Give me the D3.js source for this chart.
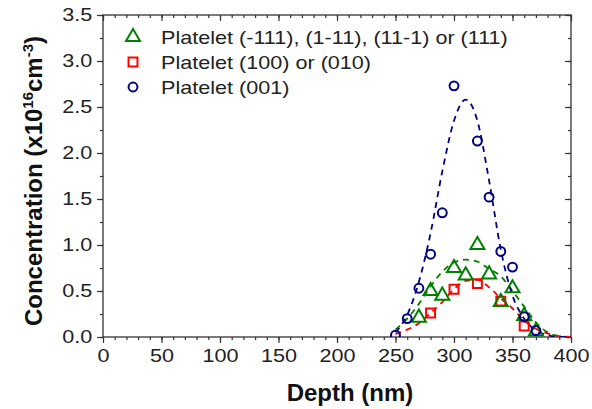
<!DOCTYPE html>
<html><head><meta charset="utf-8">
<script src="https://cdn.jsdelivr.net/npm/d3@7/dist/d3.min.js"></script>
<style>body{margin:0;background:#fff}svg{display:block}text{font-family:"Liberation Sans",Arial,sans-serif}</style>
</head><body><svg id="c" width="592" height="409"></svg>
<script>
// Data
const triDepth = [270, 280, 290, 300, 310, 320, 330, 340, 350, 360, 370];
const triConc  = [0.21, 0.50, 0.45, 0.75, 0.67, 1.00, 0.68, 0.38, 0.53, 0.23, 0.06];
const sqDepth  = [280, 300, 320, 340, 360];
const sqConc   = [0.26, 0.52, 0.58, 0.39, 0.12];
const circDepth = [250, 260, 270, 280, 290, 300, 320, 330, 340, 350, 360, 370];
const circConc  = [0.02, 0.20, 0.53, 0.90, 1.35, 2.73, 2.13, 1.52, 0.93, 0.76, 0.22, 0.07];
const fitDepth = [250, 260, 270, 280, 290, 300, 310, 320, 330, 340, 350, 360, 370, 380, 390, 400];
const fitGreen = [0.08, 0.20, 0.36, 0.55, 0.71, 0.81, 0.84, 0.82, 0.74, 0.66, 0.50, 0.33, 0.16, 0.05, 0.01, 0.0];
const fitRed   = [0.03, 0.08, 0.15, 0.26, 0.38, 0.52, 0.61, 0.62, 0.54, 0.42, 0.31, 0.18, 0.09, 0.04, 0.01, 0.0];
const fitBlue  = [0.05, 0.24, 0.60, 1.13, 1.80, 2.35, 2.58, 2.35, 1.70, 0.95, 0.45, 0.20, 0.07, 0.02, 0.0, 0.0];
const xTicks = [0, 50, 100, 150, 200, 250, 300, 350, 400];
const yTicks = [0.0, 0.5, 1.0, 1.5, 2.0, 2.5, 3.0, 3.5];
const legendLabels = ["Platelet (-111), (1-11), (11-1) or (111)", "Platelet (100) or (010)", "Platelet (001)"];
const colors = ["#008000", "#ff0000", "#000080"];

const SX = 1.2; // horizontal stretch of the reference's small text
const svg = d3.select("#c");
const L = 103, R = 571, T = 15, B = 337;
const x = d3.scaleLinear().domain([0, 400]).range([L, R]);
const y = d3.scaleLinear().domain([0, 3.5]).range([B, T]);
const axisColor = "#333";

const xMinor = d3.range(0, 401, 10);
const yMinor = d3.range(0, 3.51, 0.25);

function styleAxis(g){
  g.select(".domain").remove();
  g.selectAll("line").attr("stroke", axisColor).attr("stroke-width", 1.2);
  g.selectAll("text").attr("fill", "#222").style("font-size", "18px")
    .attr("transform", `scale(${SX},1)`);
}
// bottom
svg.append("g").attr("transform", `translate(0,${B})`)
  .call(d3.axisBottom(x).tickValues(xMinor).tickSize(3).tickFormat(""))
  .call(styleAxis);
svg.append("g").attr("transform", `translate(0,${B})`)
  .call(d3.axisBottom(x).tickValues(xTicks).tickSize(6).tickPadding(6).tickFormat(d3.format("d")))
  .call(styleAxis);
// top (inward)
svg.append("g").attr("transform", `translate(0,${T})`)
  .call(d3.axisBottom(x).tickValues(xMinor).tickSize(3).tickFormat(""))
  .call(styleAxis);
svg.append("g").attr("transform", `translate(0,${T})`)
  .call(d3.axisBottom(x).tickValues(xTicks).tickSize(6).tickFormat(""))
  .call(styleAxis);
// left
svg.append("g").attr("transform", `translate(${L},0)`)
  .call(d3.axisLeft(y).tickValues(yMinor).tickSize(3).tickFormat(""))
  .call(styleAxis);
svg.append("g").attr("transform", `translate(${L},0)`)
  .call(d3.axisLeft(y).tickValues(yTicks).tickSize(6).tickPadding(3).tickFormat(d3.format(".1f")))
  .call(styleAxis);
// right (inward)
svg.append("g").attr("transform", `translate(${R},0)`)
  .call(d3.axisLeft(y).tickValues(yMinor).tickSize(3).tickFormat(""))
  .call(styleAxis);
svg.append("g").attr("transform", `translate(${R},0)`)
  .call(d3.axisLeft(y).tickValues(yTicks).tickSize(6).tickFormat(""))
  .call(styleAxis);
// frame
svg.append("rect").attr("x", L).attr("y", T).attr("width", R - L).attr("height", B - T)
  .attr("fill", "none").attr("stroke", axisColor).attr("stroke-width", 1.3);

svg.append("clipPath").attr("id", "clip").append("rect")
  .attr("x", L).attr("y", T).attr("width", R - L).attr("height", B - T);
const plot = svg.append("g").attr("clip-path", "url(#clip)");

// fit curves
const line = d3.line().x(d => x(d[0])).y(d => y(d[1])).curve(d3.curveMonotoneX);
[fitGreen, fitRed, fitBlue].forEach((f, i) => {
  plot.append("path").datum(fitDepth.map((d, j) => [d, f[j]]))
    .attr("d", line).attr("fill", "none").attr("stroke", colors[i])
    .attr("stroke-width", 1.8).attr("stroke-dasharray", "6,5");
});

// symbols
const triSym = d3.symbol().type(d3.symbolTriangle).size(85);
const sqSym = d3.symbol().type(d3.symbolSquare).size(80);
const circSym = d3.symbol().type(d3.symbolCircle).size(62);
function drawPts(xs, ys, sym, color){
  plot.selectAll(null).data(xs.map((d, j) => [d, ys[j]])).enter().append("path")
    .attr("d", sym).attr("transform", d => `translate(${x(d[0])},${y(d[1])})`)
    .attr("fill", "none").attr("stroke", color).attr("stroke-width", 2);
}
drawPts(sqDepth, sqConc, sqSym, colors[1]);
drawPts(triDepth, triConc, triSym, colors[0]);
drawPts(circDepth, circConc, circSym, colors[2]);

// legend
const syms = [triSym, sqSym, circSym];
legendLabels.forEach((lab, i) => {
  const ly = 37 + i * 25;
  svg.append("path").attr("d", syms[i]).attr("transform", `translate(133,${ly})`)
    .attr("fill", "none").attr("stroke", colors[i]).attr("stroke-width", 2);
  svg.append("text").attr("transform", `translate(161,${ly + 6.5}) scale(${SX},1)`).attr("fill", "#222")
    .style("font-size", "18px").text(lab);
});

// axis titles
svg.append("text").attr("transform", "translate(350,401)").attr("text-anchor", "middle")
  .style("font-size", "24px").style("font-weight", "bold").attr("fill", "#111").text("Depth (nm)");
const yt = svg.append("text").attr("transform", "translate(42,181) rotate(-90)")
  .attr("text-anchor", "middle").style("font-size", "24px").style("font-weight", "bold").attr("fill", "#111");
yt.append("tspan").text("Concentration (x10");
yt.append("tspan").attr("dy", -9).style("font-size", "15px").text("16");
yt.append("tspan").attr("dy", 9).text("cm");
yt.append("tspan").attr("dy", -9).style("font-size", "15px").text("-3");
yt.append("tspan").attr("dy", 9).text(")");
</script></body></html>
